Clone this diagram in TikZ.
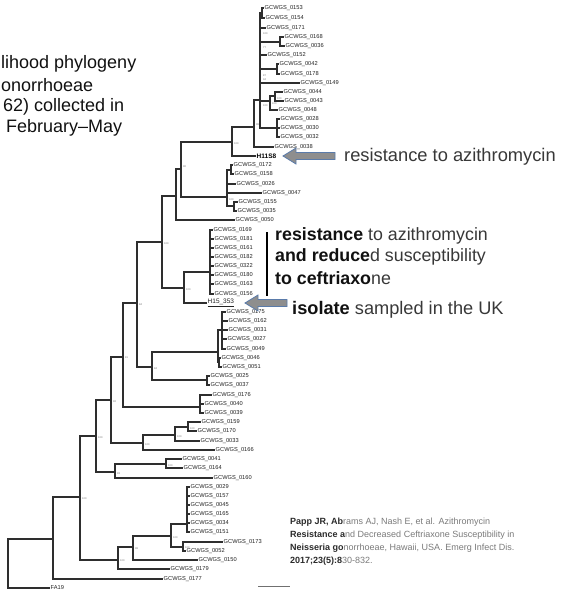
\documentclass[tikz,border=0pt]{standalone}
\usepackage{fontspec}
\setmainfont{Liberation Sans}
\definecolor{treec}{HTML}{2E2E2E}
\definecolor{lab}{HTML}{222222}
\definecolor{supc}{HTML}{707070}
\definecolor{arrfill}{HTML}{8E8E8E}
\definecolor{arrline}{HTML}{5A7BAA}
\definecolor{txtd}{HTML}{111111}
\definecolor{txtl}{HTML}{383838}
\definecolor{cited}{HTML}{2A2A2A}
\definecolor{citel}{HTML}{7A7A7A}
\newcommand\bk[1]{{\bfseries\color{txtd}#1}}
\newcommand\ck[1]{{\bfseries\color{cited}#1}}
\newcommand\lf[4]{\node[leaf] (#1) at (#2,#3) {#4};}
\newcommand\suppv[3]{\node[suplab] at (#1,#2) {#3};}
\tikzset{
  br/.style={draw=treec, line width=1.1pt},
  leaf/.style={anchor=west, inner sep=0.5pt, font=\fontsize{5.7}{6}\selectfont, text=lab},
  suplab/.style={anchor=west, inner sep=0pt, font=\fontsize{2.6}{3}\selectfont, text=supc},
  big/.style={anchor=west, inner sep=0pt, font=\fontsize{17.8}{20}\selectfont, text=txtl},
  lefttxt/.style={anchor=west, inner sep=0pt, font=\fontsize{18}{20}\selectfont, text=txtd},
  cite/.style={anchor=west, inner sep=0pt, font=\fontsize{9}{10}\selectfont, text=citel},
  blockarrow/.style={fill=arrfill, draw=arrline, line width=0.8pt, line join=miter},
  annbar/.style={draw=black, line width=1.5pt}
}
\begin{document}
\begin{tikzpicture}[x=1pt,y=-1pt]
\useasboundingbox (0,0) rectangle (562,590);
% ---------- leaves ----------
\lf{l0153}{264}{8}{GCWGS\_0153}
\lf{l0154}{265}{18}{GCWGS\_0154}
\lf{l0171}{266}{28}{GCWGS\_0171}
\lf{l0168}{284}{37}{GCWGS\_0168}
\lf{l0036}{285}{46}{GCWGS\_0036}
\lf{l0152}{267}{55}{GCWGS\_0152}
\lf{l0042}{279}{64}{GCWGS\_0042}
\lf{l0178}{280}{74}{GCWGS\_0178}
\lf{l0149}{300}{83}{GCWGS\_0149}
\lf{l0044}{283}{92}{GCWGS\_0044}
\lf{l0043}{284}{101}{GCWGS\_0043}
\lf{l0048}{278}{110}{GCWGS\_0048}
\lf{l0028}{280}{119}{GCWGS\_0028}
\lf{l0030}{280}{128}{GCWGS\_0030}
\lf{l0032}{280}{137}{GCWGS\_0032}
\lf{l0038}{274}{147}{GCWGS\_0038}
\node[leaf, font=\fontsize{6.5}{7}\selectfont\bfseries, text=black] (lH11S8) at (256,156) {H11S8};
\lf{l0172}{233}{165}{GCWGS\_0172}
\lf{l0158}{234}{174}{GCWGS\_0158}
\lf{l0026}{236}{184}{GCWGS\_0026}
\lf{l0047}{262}{193}{GCWGS\_0047}
\lf{l0155}{238}{202}{GCWGS\_0155}
\lf{l0035}{237}{211}{GCWGS\_0035}
\lf{l0050}{235}{220}{GCWGS\_0050}
\lf{l0169}{213}{230}{GCWGS\_0169}
\lf{l0181}{214}{239}{GCWGS\_0181}
\lf{l0161}{214}{248}{GCWGS\_0161}
\lf{l0182}{214}{257}{GCWGS\_0182}
\lf{l0322}{214}{266}{GCWGS\_0322}
\lf{l0180}{214}{275}{GCWGS\_0180}
\lf{l0163}{214}{284}{GCWGS\_0163}
\lf{l0156}{214}{294}{GCWGS\_0156}
\node[leaf, font=\fontsize{6.5}{7}\selectfont] (lH15) at (207,303) {\underline{H15\_353}};
\lf{l0175}{226}{312}{GCWGS\_0175}
\lf{l0162}{228}{321}{GCWGS\_0162}
\lf{l0031}{228}{330}{GCWGS\_0031}
\lf{l0027}{227}{339}{GCWGS\_0027}
\lf{l0049}{226}{349}{GCWGS\_0049}
\lf{l0046}{221}{358}{GCWGS\_0046}
\lf{l0051}{222}{367}{GCWGS\_0051}
\lf{l0025}{210}{376}{GCWGS\_0025}
\lf{l0037}{210}{385}{GCWGS\_0037}
\lf{l0176}{212}{395}{GCWGS\_0176}
\lf{l0040}{204}{404}{GCWGS\_0040}
\lf{l0039}{204}{413}{GCWGS\_0039}
\lf{l0159}{201}{422}{GCWGS\_0159}
\lf{l0170}{197}{431}{GCWGS\_0170}
\lf{l0033}{200}{441}{GCWGS\_0033}
\lf{l0166}{215}{450}{GCWGS\_0166}
\lf{l0041}{182}{459}{GCWGS\_0041}
\lf{l0164}{183}{468}{GCWGS\_0164}
\lf{l0160}{213}{478}{GCWGS\_0160}
\lf{l0029}{190}{487}{GCWGS\_0029}
\lf{l0157}{190}{496}{GCWGS\_0157}
\lf{l0045}{190}{505}{GCWGS\_0045}
\lf{l0165}{190}{514}{GCWGS\_0165}
\lf{l0034}{190}{523}{GCWGS\_0034}
\lf{l0151}{190}{532}{GCWGS\_0151}
\lf{l0173}{223}{542}{GCWGS\_0173}
\lf{l0052}{186}{551}{GCWGS\_0052}
\lf{l0150}{198}{560}{GCWGS\_0150}
\lf{l0179}{170}{569}{GCWGS\_0179}
\lf{l0177}{163}{579}{GCWGS\_0177}
\lf{lFA19}{50}{588}{FA19}
% ---------- internal nodes ----------
\coordinate (R) at (8,564);
\coordinate (N53) at (53,539);
\coordinate (N80) at (80,497);
\coordinate (N118) at (118,560);
\coordinate (N133) at (133,547);
\coordinate (N171) at (171,536);
\coordinate (N187) at (187,524);
\coordinate (N183) at (183,547);
\coordinate (N96) at (96,436);
\coordinate (N115) at (115,472);
\coordinate (N166) at (166,464);
\coordinate (N111) at (111,400);
\coordinate (N143) at (143,443);
\coordinate (N175) at (175,435);
\coordinate (N188) at (188,427);
\coordinate (N123) at (123,357);
\coordinate (N200) at (200,407);
\coordinate (N137) at (137,303);
\coordinate (N152) at (152,367);
\coordinate (N218) at (218,352);
\coordinate (N222) at (222,330);
\coordinate (N220) at (219,362);
\coordinate (N207) at (207,380);
\coordinate (N162) at (162,242);
\coordinate (N184) at (184,288);
\coordinate (N210) at (210,272);
\coordinate (N176) at (176,196);
\coordinate (N181) at (181,169);
\coordinate (N227) at (227,197);
\coordinate (N231) at (231,170);
\coordinate (N234) at (234,206);
\coordinate (N232) at (232,142);
\coordinate (N254) at (254,127);
\coordinate (N260) at (260,100);
\coordinate (N262) at (262,13);
\coordinate (N280) at (280,42);
\coordinate (N277a) at (277,69);
\coordinate (N270) at (270,101);
\coordinate (N275) at (275,96);
\coordinate (N277b) at (277,128);
% ---------- branches ----------
\foreach \p/\c in {R/N53, N53/N80, N80/N96, N80/N118, N118/N133, N133/N171,
  N171/N187, N171/N183, N96/N111, N96/N115, N115/N166, N111/N123, N111/N143,
  N143/N175, N175/N188, N123/N137, N123/N200, N137/N162, N137/N152, N152/N218,
  N152/N207, N218/N222, N218/N220, N162/N176, N162/N184, N184/N210, N176/N181,
  N181/N232, N181/N227, N227/N231, N227/N234, N232/N254, N254/N260, N260/N262,
  N260/N280, N260/N277a, N260/N270, N260/N277b, N270/N275}
  \draw[br] (\p) |- (\c);
\foreach \p/\c in {R/lFA19, N53/l0177, N118/l0179, N133/l0150,
  N187/l0029, N187/l0157, N187/l0045, N187/l0165, N187/l0034, N187/l0151,
  N183/l0173, N183/l0052, N115/l0160, N166/l0041, N166/l0164, N143/l0166,
  N175/l0033, N188/l0159, N188/l0170, N200/l0176, N200/l0040, N200/l0039,
  N222/l0175, N222/l0162, N222/l0031, N222/l0027, N222/l0049, N220/l0046, N220/l0051,
  N207/l0025, N207/l0037, N184/lH15,
  N210/l0169, N210/l0181, N210/l0161, N210/l0182, N210/l0322, N210/l0180, N210/l0163, N210/l0156,
  N176/l0050, N227/l0026, N227/l0047, N231/l0172, N231/l0158, N234/l0155, N234/l0035,
  N232/lH11S8, N254/l0038, N260/l0171, N260/l0152, N260/l0149,
  N262/l0153, N262/l0154, N280/l0168, N280/l0036, N277a/l0042, N277a/l0178,
  N270/l0048, N275/l0044, N275/l0043, N277b/l0028, N277b/l0030, N277b/l0032}
  \draw[br] (\p) |- (\c.west);
% ---------- support values ----------
\suppv{263}{34}{100}\suppv{263}{48}{77}\suppv{263}{76}{87}\suppv{263}{80}{94}
\suppv{263}{106}{100}\suppv{272}{104}{100}\suppv{277}{99}{100}\suppv{256}{125}{98}
\suppv{234}{144}{100}\suppv{183}{167}{90}\suppv{229}{200}{100}\suppv{164}{244}{100}
\suppv{186}{290}{100}\suppv{139}{305}{84}\suppv{154}{369}{84}\suppv{125}{358}{81}
\suppv{113}{402}{92}\suppv{98}{438}{100}\suppv{145}{445}{100}\suppv{177}{437}{100}
\suppv{190}{429}{100}\suppv{117}{474}{93}\suppv{168}{466}{100}\suppv{82}{499}{100}
\suppv{120}{561}{100}\suppv{135}{549}{98}\suppv{173}{538}{100}\suppv{185}{548}{100}
% ---------- scale bar ----------
\draw[draw=supc, line width=0.8pt] (258,586) -- (290,586);
% ---------- annotations ----------
\draw[blockarrow] (283,156) -- ++(13,-8) -- ++(0,4.5) -- ++(39,0) -- ++(0,7) -- ++(-39,0) -- ++(0,4.5) -- cycle;
\draw[blockarrow] (245,303) -- ++(13,-8) -- ++(0,4.5) -- ++(29,0) -- ++(0,7) -- ++(-29,0) -- ++(0,4.5) -- cycle;
\draw[annbar] (267,232) -- (267,296);
\node[big, font=\fontsize{18.3}{20}\selectfont] (t1) at (344,157) {resistance to azithromycin};
\node[big] (t2) at (275,236) {\bk{resistance} to azithromycin};
\node[big] (t3) at (275,257) {\bk{and reduce}d susceptibility};
\node[big] (t4) at (275,278) {\bk{to ceftriaxo}ne};
\node[big, font=\fontsize{18.2}{20}\selectfont] (t5) at (292,310) {\bk{isolate} sampled in the UK};
\node[lefttxt] (s1) at (1,64) {lihood phylogeny};
\node[lefttxt] (s2) at (1,85) {onorrhoeae};
\node[lefttxt] (s3) at (3,107) {62) collected in};
\node[lefttxt] (s4) at (6,128) {February--May};
\node[cite] (c1) at (290,522) {\ck{Papp JR, Ab}rams AJ, Nash E, et al. Azithromycin};
\node[cite] (c2) at (290,535) {\ck{Resistance a}nd Decreased Ceftriaxone Susceptibility in};
\node[cite] (c3) at (290,548) {\ck{Neisseria go}norrhoeae, Hawaii, USA. Emerg Infect Dis.};
\node[cite] (c4) at (290,561) {\ck{2017;23(5):8}30-832.};
\end{tikzpicture}
\end{document}
